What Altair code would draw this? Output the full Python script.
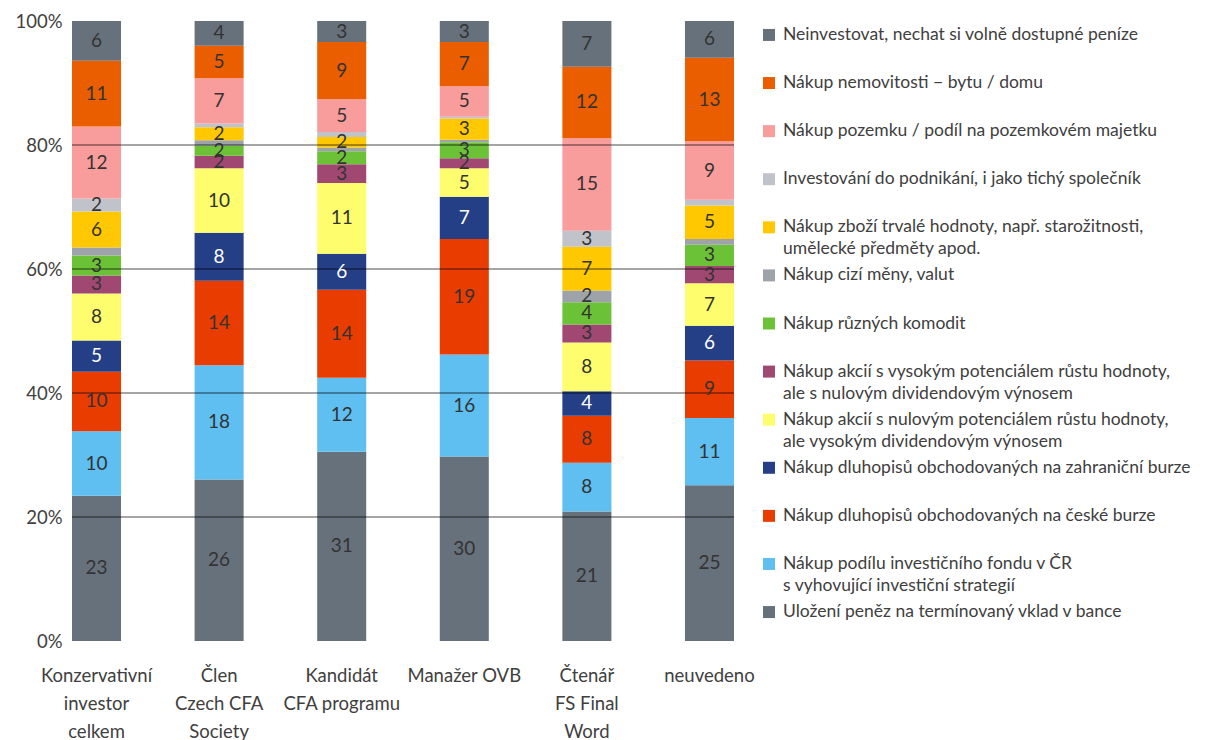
import altair as alt
import pandas as pd

categories = [
    "Konzervativní\ninvestor\ncelkem",
    "Člen\nCzech CFA\nSociety",
    "Kandidát\nCFA programu",
    "Manažer OVB",
    "Čtenář\nFS Final\nWord",
    "neuvedeno",
]

# series listed from bottom of the stack to the top
series = [
    "Uložení peněz na termínovaný vklad v bance",
    "Nákup podílu investičního fondu v ČR\ns vyhovující investiční strategií",
    "Nákup dluhopisů obchodovaných na české burze",
    "Nákup dluhopisů obchodovaných na zahraniční burze",
    "Nákup akcií s nulovým potenciálem růstu hodnoty,\nale vysokým dividendovým výnosem",
    "Nákup akcií s vysokým potenciálem růstu hodnoty,\nale s nulovým dividendovým výnosem",
    "Nákup různých komodit",
    "Nákup cizí měny, valut",
    "Nákup zboží trvalé hodnoty, např. starožitnosti,\numělecké předměty apod.",
    "Investování do podnikání, i jako tichý společník",
    "Nákup pozemku / podíl na pozemkovém majetku",
    "Nákup nemovitosti − bytu / domu",
    "Neinvestovat, nechat si volně dostupné peníze",
]

colors = [
    "#67717B", "#5EBFF0", "#E83C00", "#243F86", "#FDFD6E", "#A04872",
    "#6CC237", "#9EA3AA", "#FFC800", "#C0C3CA", "#F99C9C", "#EB5E00", "#67717B",
]

# values per series, one per category (percent)
v_ulozeni = [23.4, 26.0, 30.5, 29.7, 21.0, 25.0]
v_fond = [10.4, 18.4, 11.9, 16.4, 7.9, 10.8]
v_dluh_cz = [9.6, 13.6, 14.2, 18.6, 7.6, 9.2]
v_dluh_zahr = [5.0, 7.7, 5.8, 6.8, 4.0, 5.6]
v_akcie_div = [7.6, 10.4, 11.4, 4.6, 7.9, 6.8]
v_akcie_rust = [2.9, 2.0, 3.0, 1.6, 2.9, 2.8]
v_komodity = [3.2, 1.6, 2.1, 2.6, 3.6, 3.4]
v_meny = [1.3, 0.9, 0.6, 0.4, 1.9, 0.9]
v_zbozi = [5.8, 2.1, 1.7, 3.4, 7.1, 5.4]
v_podnikani = [2.1, 0.6, 0.8, 0.3, 2.6, 0.9]
v_pozemek = [11.6, 7.3, 5.3, 4.9, 15.0, 9.4]
v_nemovitost = [10.6, 5.2, 9.2, 7.1, 11.6, 13.4]
v_neinvest = [6.4, 4.0, 3.4, 3.4, 7.4, 5.9]

all_values = [v_ulozeni, v_fond, v_dluh_cz, v_dluh_zahr, v_akcie_div, v_akcie_rust,
              v_komodity, v_meny, v_zbozi, v_podnikani, v_pozemek, v_nemovitost, v_neinvest]

grid_values = [0.2, 0.4, 0.6, 0.8]
y_ticks = [0, 0.2, 0.4, 0.6, 0.8, 1.0]

rows = []
for si, (s, vals) in enumerate(zip(series, all_values)):
    for c, v in zip(categories, vals):
        rows.append({"cat": c, "series": s, "order": si, "value": v})
df = pd.DataFrame(rows)

FONT = "Lato"
color_scale = alt.Scale(domain=series, range=colors)

x_enc = alt.X(
    "cat:N", sort=categories, title=None,
    scale=alt.Scale(paddingInner=0.6, paddingOuter=0),
    axis=alt.Axis(labelAngle=0, ticks=False, domain=False, labelFontSize=18.5,
                  labelFont=FONT, labelColor="#404040", labelPadding=34,
                  labelLineHeight=28, labelBaseline="middle",
                  labelExpr="split(datum.label, '\\n')"),
)

base = alt.Chart(df).transform_stack(
    stack="value", groupby=["cat"], sort=[alt.SortField("order", "ascending")],
    offset="normalize", as_=["y0", "y1"],
).transform_calculate(mid="(datum.y0 + datum.y1) / 2")

bars = base.mark_bar().encode(
    x=x_enc,
    y=alt.Y("y0:Q", title=None, scale=alt.Scale(domain=[0, 1], nice=False),
            axis=alt.Axis(values=y_ticks, format=".0%", grid=False, ticks=False,
                          domain=False, labelFontSize=18.5, labelFont=FONT,
                          labelColor="#404040", labelPadding=10,
                          minExtent=52, maxExtent=52)),
    y2="y1:Q",
    color=alt.Color("series:N", scale=color_scale, legend=None),
)

labels = base.transform_filter("datum.value >= 1.5").mark_text(
    font=FONT, fontSize=19, baseline="middle", align="center"
).encode(
    x=x_enc,
    y=alt.Y("mid:Q"),
    text=alt.Text("value:Q", format=".0f"),
    color=alt.condition(alt.datum.series == series[3], alt.value("white"), alt.value("#333333")),
)

grid = alt.Chart(pd.DataFrame({"g": grid_values})).mark_rule(
    color="black", opacity=0.7, strokeWidth=1.2
).encode(y=alt.Y("g:Q"))

main = alt.layer(bars, grid, labels).properties(width=662, height=620)

leg_df = pd.DataFrame({"series": series[::-1], "pos": list(range(len(series)))})

leg_y = alt.Y("series:N", sort=series[::-1], axis=None, title=None,
              scale=alt.Scale(type="point", padding=0.29))
leg_sq = alt.Chart(leg_df).mark_square(size=144, opacity=1).encode(
    y=leg_y, x=alt.value(10),
    color=alt.Color("series:N", scale=color_scale, legend=None),
)
leg_txt = alt.Chart(leg_df).mark_text(
    align="left", baseline="middle", lineBreak="\n", font=FONT, fontSize=17.5,
    lineHeight=22, color="#404040"
).encode(y=leg_y, x=alt.value(24), text="series:N")

legend = alt.layer(leg_sq, leg_txt).properties(width=420, height=605)

chart = alt.hconcat(main, legend, spacing=4).properties(
    padding={"left": 14, "top": 12, "right": 5, "bottom": 5},
    background="white",
).configure_view(stroke=None)

chart.save("out.html", embed_options={"renderer": "svg", "actions": False})
